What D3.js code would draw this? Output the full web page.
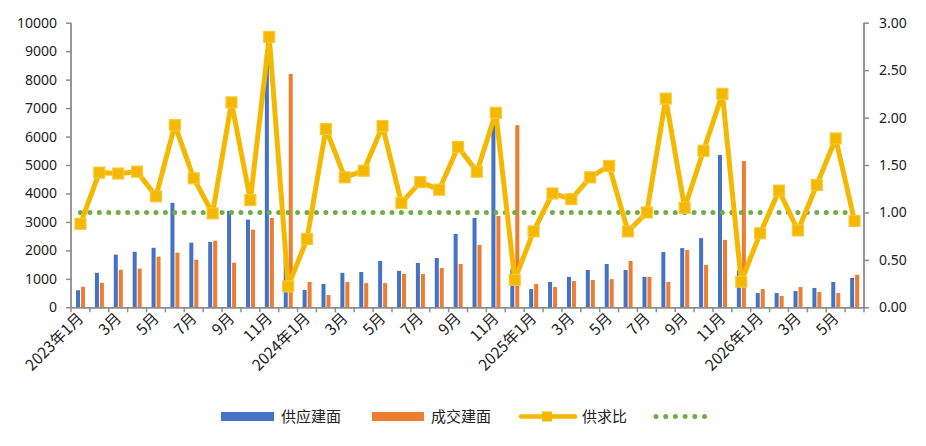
<!DOCTYPE html>
<html>
<head>
<meta charset="utf-8">
<script src="https://cdn.jsdelivr.net/npm/d3@7"></script>
<style>
  body { margin: 0; background: #fff; }
  svg text { font-family: "Noto Sans CJK SC", "Noto Sans", sans-serif; fill: #222; }
</style>
</head>
<body>
<svg id="chart" width="926" height="446"></svg>
<script>
// months 2023-01 .. 2026-06
const months = [];
[2023, 2024, 2025, 2026].forEach(y => {
    for (let m = 1; m <= 12; m++) {
        if (y === 2026 && m > 6) break;
        months.push(m === 1 ? `${y}年1月` : `${m}月`);
    }
});

const supply = [600, 1210, 1850, 1950, 2090, 3670, 2270, 2300, 3390, 3080, 8900, 1740,
                610, 820, 1210, 1240, 1630, 1280, 1560, 1730, 2580, 3140, 6400, 1350,
                640, 890, 1070, 1310, 1520, 1310, 1070, 1940, 2080, 2430, 5350, 1300,
                500, 500, 570, 680, 890, 1030];
const deal = [720, 860, 1320, 1360, 1780, 1920, 1670, 2340, 1570, 2730, 3140, 8200,
              890, 430, 890, 850, 850, 1170, 1170, 1380, 1520, 2190, 3210, 6400,
              820, 710, 920, 960, 990, 1630, 1070, 890, 2010, 1490, 2370, 5140,
              640, 400, 710, 540, 500, 1140];
const ratio = [0.88, 1.42, 1.41, 1.43, 1.17, 1.92, 1.36, 0.99, 2.16, 1.13, 2.85, 0.22,
               0.72, 1.88, 1.37, 1.44, 1.91, 1.10, 1.32, 1.24, 1.69, 1.43, 2.05, 0.29,
               0.80, 1.20, 1.14, 1.37, 1.49, 0.80, 1.00, 2.20, 1.05, 1.65, 2.25, 0.27,
               0.78, 1.23, 0.81, 1.29, 1.78, 0.91];
const baseline = 1.0;

const leftTicks = d3.range(0, 10001, 1000);
const rightTicks = d3.range(0, 3.01, 0.5);

const blue = "#4472C4", orange = "#ED7D31", gold = "#F4B800", green = "#70AD47", axisCol = "#8c8c8c";

const svg = d3.select("#chart");
const x0 = 71, x1 = 864, yTop = 22.7, yBot = 307.3;

const x = d3.scaleBand().domain(d3.range(months.length)).range([x0, x1]);
const yL = d3.scaleLinear().domain([0, 10000]).range([yBot, yTop]);
const yR = d3.scaleLinear().domain([0, 3]).range([yBot, yTop]);
const cx = i => x(i) + x.bandwidth() / 2;

// bars
svg.append("g").selectAll("rect").data(supply).join("rect")
    .attr("x", (d, i) => cx(i) - 4.4).attr("width", 4)
    .attr("y", d => yL(d)).attr("height", d => yBot - yL(d))
    .attr("fill", blue);
svg.append("g").selectAll("rect").data(deal).join("rect")
    .attr("x", (d, i) => cx(i) + 0.6).attr("width", 4)
    .attr("y", d => yL(d)).attr("height", d => yBot - yL(d))
    .attr("fill", orange);

// axes
const leftAxis = svg.append("g").attr("transform", `translate(${x0},0)`)
    .call(d3.axisLeft(yL).tickValues(leftTicks).tickSize(5).tickPadding(9).tickFormat(d3.format("d")));
const rightAxis = svg.append("g").attr("transform", `translate(${x1},0)`)
    .call(d3.axisRight(yR).tickValues(rightTicks).tickSize(5).tickPadding(10).tickFormat(d3.format(".2f")));
const bottomAxis = svg.append("g").attr("transform", `translate(0,${yBot})`)
    .call(d3.axisBottom(x).tickValues([]).tickSizeOuter(0));
bottomAxis.selectAll(".tk").data(d3.range(months.length + 1)).join("line")
    .attr("x1", i => x0 + i * x.step()).attr("x2", i => x0 + i * x.step())
    .attr("y1", 0).attr("y2", 5).attr("stroke", axisCol).attr("stroke-width", 1.5);

[leftAxis, rightAxis, bottomAxis].forEach(a => {
    a.select(".domain").attr("stroke", axisCol).attr("stroke-width", 1.8);
    a.selectAll(".tick line").attr("stroke", axisCol).attr("stroke-width", 1.5);
    a.selectAll(".tick text").attr("font-size", 14).attr("fill", "#222")
        .style("font-family", "'Noto Sans', 'Noto Sans CJK SC', sans-serif");
});
leftAxis.select(".domain").attr("d", `M0,${yTop}V${yBot}`);
rightAxis.select(".domain").attr("d", `M0,${yTop}V${yBot}`);

// x labels, every other month
svg.append("g").selectAll("text").data(months).join("text")
    .filter((d, i) => i % 2 === 0)
    .attr("transform", (d, i) => `translate(${cx(i * 2) + 4},${yBot + 12}) rotate(-45)`)
    .attr("text-anchor", "end")
    .attr("font-size", 15.5)
    .text(d => d);

// baseline dotted
svg.append("line")
    .attr("x1", cx(0)).attr("x2", cx(months.length - 1))
    .attr("y1", yR(baseline)).attr("y2", yR(baseline))
    .attr("stroke", green).attr("stroke-width", 5)
    .attr("stroke-linecap", "round").attr("stroke-dasharray", `0,${x.step() / 2}`);

// ratio line
svg.append("path").datum(ratio)
    .attr("d", d3.line().x((d, i) => cx(i)).y(d => yR(d)))
    .attr("fill", "none").attr("stroke", gold).attr("stroke-width", 5)
    .attr("stroke-linejoin", "round");
svg.append("g").selectAll("rect").data(ratio).join("rect")
    .attr("x", (d, i) => cx(i) - 5.5).attr("y", d => yR(d) - 5.5)
    .attr("width", 11).attr("height", 11)
    .attr("fill", gold).attr("stroke", "#F7C83A").attr("stroke-width", 1.2);

// legend
const lg = svg.append("g").attr("font-size", 15);
const ly = 416;
lg.append("rect").attr("x", 221).attr("y", ly - 4).attr("width", 53).attr("height", 9).attr("fill", blue);
lg.append("text").attr("x", 281).attr("y", ly + 5.5).text("供应建面");
lg.append("rect").attr("x", 372).attr("y", ly - 4).attr("width", 52).attr("height", 9).attr("fill", orange);
lg.append("text").attr("x", 431).attr("y", ly + 5.5).text("成交建面");
lg.append("line").attr("x1", 521).attr("x2", 575).attr("y1", ly + 0.5).attr("y2", ly + 0.5)
    .attr("stroke", gold).attr("stroke-width", 4.5).attr("stroke-linecap", "round");
lg.append("rect").attr("x", 542).attr("y", ly - 4.5).attr("width", 10).attr("height", 10).attr("fill", gold);
lg.append("text").attr("x", 582).attr("y", ly + 5.5).text("供求比");
lg.append("line").attr("x1", 656).attr("x2", 705).attr("y1", ly + 0.5).attr("y2", ly + 0.5)
    .attr("stroke", green).attr("stroke-width", 5).attr("stroke-linecap", "round")
    .attr("stroke-dasharray", "0,9.7");
</script>
</body>
</html>
